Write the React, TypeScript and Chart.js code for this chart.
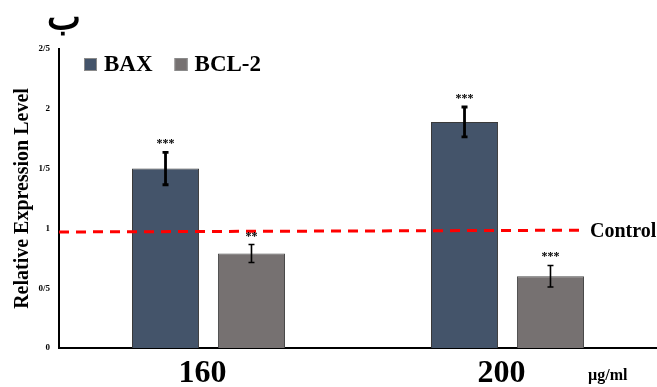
import React, { useEffect, useRef } from "react";
import { Chart, registerables } from "chart.js";

Chart.register(...registerables);

const categories = ["160", "200"];
const seriesNames = ["BAX", "BCL-2"];
const baxValues = [1.5, 1.89];
const baxErrors = [0.135, 0.125];
const bclValues = [0.79, 0.6];
const bclErrors = [0.075, 0.09];
const baxStars = ["***", "***"];
const bclStars = ["**", "***"];
const controlLevel = [0.97, 0.985];
const yTickLabels = ["0", "0/5", "1", "1/5", "2", "2/5"];
const unitLabel = "µg/ml";
const controlLabel = "Control";
const panelTitle = "ب";

const SERIF = "'Liberation Serif', 'Times New Roman', serif";
const colors = ["#44546A", "#767171"];

const overlayPlugin = {
  id: "overlay",
  afterDatasetsDraw(chart: any) {
    const ctx = chart.ctx;
    const y = chart.scales.y;
    const errs = [baxErrors, bclErrors];
    const stars = [baxStars, bclStars];
    const widths = [2.8, 1.6];
    ctx.save();
    // control line
    ctx.strokeStyle = "#FF0000";
    ctx.lineWidth = 3;
    ctx.setLineDash([10, 7]);
    ctx.beginPath();
    ctx.moveTo(chart.chartArea.left, y.getPixelForValue(controlLevel[0]));
    ctx.lineTo(585, y.getPixelForValue(controlLevel[1]));
    ctx.stroke();
    ctx.setLineDash([]);
    ctx.fillStyle = "#000";
    ctx.font = `bold 20px ${SERIF}`;
    ctx.textBaseline = "middle";
    ctx.textAlign = "left";
    ctx.fillText(controlLabel, 590, y.getPixelForValue(controlLevel[1]) + 2);

    chart.data.datasets.forEach((ds: any, di: number) => {
      const meta = chart.getDatasetMeta(di);
      meta.data.forEach((bar: any, i: number) => {
        const v = ds.data[i];
        const e = errs[di][i];
        const top = y.getPixelForValue(v + e);
        const bot = y.getPixelForValue(v - e);
        const cx = bar.x;
        ctx.strokeStyle = "#000";
        ctx.lineWidth = widths[di];
        ctx.beginPath();
        ctx.moveTo(cx, top);
        ctx.lineTo(cx, bot);
        ctx.moveTo(cx - 3, top);
        ctx.lineTo(cx + 3, top);
        ctx.moveTo(cx - 3, bot);
        ctx.lineTo(cx + 3, bot);
        ctx.stroke();
        ctx.fillStyle = "#000";
        ctx.font = `bold 12px ${SERIF}`;
        ctx.textAlign = "center";
        ctx.textBaseline = "alphabetic";
        ctx.fillText(stars[di][i], cx, top - 5);
      });
    });

    // legend
    let lx = 84;
    const ly = 64;
    chart.data.datasets.forEach((ds: any) => {
      ctx.fillStyle = ds.backgroundColor;
      ctx.fillRect(lx, ly - 6, 13, 13);
      ctx.strokeStyle = "#8a8a8a";
      ctx.lineWidth = 1;
      ctx.strokeRect(lx + 0.5, ly - 5.5, 12, 12);
      ctx.fillStyle = "#000";
      ctx.font = `bold 23px ${SERIF}`;
      ctx.textAlign = "left";
      ctx.textBaseline = "middle";
      ctx.fillText(ds.label, lx + 20, ly + 1);
      lx += 20 + ctx.measureText(ds.label).width + 22;
    });

    // unit
    ctx.font = `bold 16px ${SERIF}`;
    ctx.textAlign = "left";
    ctx.textBaseline = "alphabetic";
    ctx.fillText(unitLabel, 588, 380);

    // panel title
    ctx.font = `bold 36px ${SERIF}`;
    ctx.textAlign = "center";
    ctx.textBaseline = "alphabetic";
    ctx.fillText(panelTitle, 64, 29);
    ctx.restore();
  },
};

export default function App() {
  const ref = useRef<HTMLCanvasElement>(null);
  useEffect(() => {
    const chart = new Chart(ref.current as HTMLCanvasElement, {
      type: "bar",
      data: {
        labels: categories,
        datasets: [
          {
            label: seriesNames[0],
            data: baxValues,
            backgroundColor: colors[0],
            borderColor: "#3a3a3a",
            borderWidth: 1,
            barPercentage: 0.78,
            categoryPercentage: 0.575,
          },
          {
            label: seriesNames[1],
            data: bclValues,
            backgroundColor: colors[1],
            borderColor: "#4a4a4a",
            borderWidth: 1,
            barPercentage: 0.78,
            categoryPercentage: 0.575,
          },
        ],
      },
      options: {
        animation: false,
        responsive: false,
        maintainAspectRatio: false,
        layout: { padding: { top: 49, left: 0, right: 0, bottom: 0 } },
        plugins: {
          legend: { display: false },
          tooltip: { enabled: false },
          title: { display: false },
        },
        scales: {
          x: {
            grid: { display: false, drawTicks: false },
            border: { display: true, color: "#000", width: 2 },
            ticks: {
              color: "#000",
              font: { family: SERIF, size: 32, weight: "bold" },
              padding: 7,
              labelOffset: -6,
            },
            afterFit(s: any) {
              s.height = 39;
            },
          },
          y: {
            min: 0,
            max: 2.5,
            grid: { display: false, drawTicks: false },
            border: { display: true, color: "#000", width: 2 },
            ticks: {
              stepSize: 0.5,
              color: "#000",
              padding: 9,
              font: { family: SERIF, size: 9, weight: "bold" },
              callback: (v: any) => yTickLabels[Math.round(Number(v) * 2)],
            },
            title: {
              display: true,
              text: "Relative Expression Level",
              color: "#000",
              font: { family: SERIF, size: 20, weight: "bold" },
              padding: { top: 11, bottom: 0 },
            },
            afterFit(s: any) {
              s.width = 59;
            },
          },
        },
      },
      plugins: [overlayPlugin],
    });
    return () => chart.destroy();
  }, []);
  return (
    <div style={{ position: "fixed", left: 0, top: 0, width: 657, height: 387, background: "#fff" }}>
      <canvas ref={ref} width={657} height={387} style={{ width: 657, height: 387 }} />
    </div>
  );
}
